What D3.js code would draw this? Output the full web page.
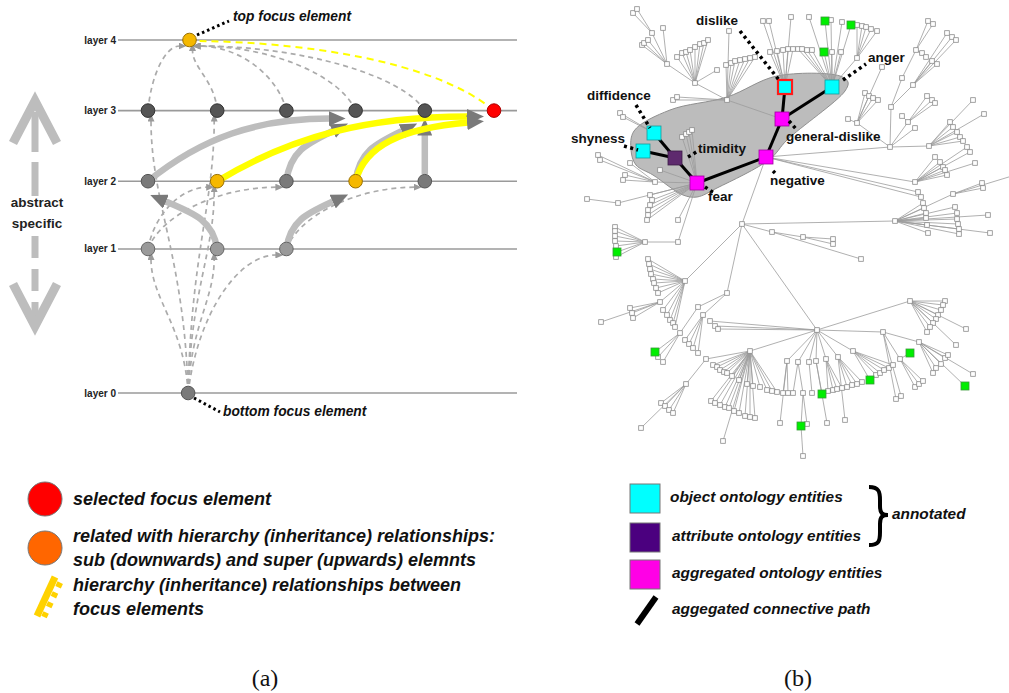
<!DOCTYPE html>
<html><head><meta charset="utf-8">
<script src="https://cdn.jsdelivr.net/npm/d3@7"></script>
<style>
body{margin:0;background:#fff;}
svg{display:block;}
</style></head><body>
<svg id="fig" width="1009" height="693"></svg>
<script>
// ================= Panel (a): layered hierarchy of focus elements =================
const layerNames = ["layer 0", "layer 1", "layer 2", "layer 3", "layer 4"];
const layerLevels = [0, 2.04, 3, 4, 5];          // layer 0 sits two steps below layer 1
// id, layer, slot, role
const elements = [
  ["b0", 0, 0.58, "base"],
  ["l1a", 1, 0, "l1"], ["l1b", 1, 1, "l1"], ["l1c", 1, 2, "l1"],
  ["l2a", 2, 0, "l2"], ["l2b", 2, 1, "focus"], ["l2c", 2, 2, "l2"], ["l2d", 2, 3, "focus"], ["l2e", 2, 4, "l2"],
  ["l3a", 3, 0, "l3"], ["l3b", 3, 1, "l3"], ["l3c", 3, 2, "l3"], ["l3d", 3, 3, "l3"], ["l3e", 3, 4, "l3"], ["sel", 3, 5, "selected"],
  ["t4", 4, 0.6, "focus"]
];
// solid hierarchy links: source, target, kind, shape
const strongLinks = [
  ["l2a", "l3d", "grey", "sweep"],
  ["l2c", "l3d", "grey", "hook"],
  ["l2d", "l3e", "grey", "hook"],
  ["l2e", "l3e", "grey", "straight"],
  ["l1b", "l2a", "grey", "hook"],
  ["l1c", "l2d", "grey", "hook"],
  ["l2b", "sel", "yellow", "sweep"],
  ["l2d", "sel", "yellow", "hook"]
];
// dashed sub/super links: source, target, shape
const dashedLinks = [
  ["b0", "l1a", "bow"], ["b0", "l1b", "bow"], ["b0", "l1c", "turn"], ["b0", "l2b", "bow"],
  ["b0", "l3a", "bow"], ["b0", "l3b", "bow"],
  ["l1a", "l2b", "turn"], ["l1a", "l2c", "turn"], ["l1c", "l2e", "turn"],
  ["l3a", "t4", "turn"], ["l3b", "t4", "bow"], ["l3c", "t4", "turn"], ["l3d", "t4", "turn"], ["l3e", "t4", "turn"]
];
const focusLink = ["sel", "t4"];

const legendA = [
  ["circle", "#ff0000", ["selected focus element"]],
  ["circle", "#ff6600", ["related with hierarchy (inheritance) relationships:", "sub (downwards) and super (upwards) elemnts"]],
  ["dash", "#ffd200", ["hierarchy (inheritance) relationships between", "focus elements"]]
];

// ================= Panel (b): ontology tree with aggregated path =================
// name, kind, x, y (layout units)
const entities = [
  ["dislike", "object", 785, 87],
  ["anger", "object", 832, 87],
  ["general-dislike", "aggregated", 782, 119],
  ["negative", "aggregated", 766, 157],
  ["fear", "aggregated", 697, 183],
  ["timidity", "attribute", 675, 158],
  ["diffidence", "object", 654, 133],
  ["shyness", "object", 643, 151]
];
const pathLinks = [
  ["dislike", "general-dislike"], ["anger", "general-dislike"], ["general-dislike", "negative"],
  ["negative", "fear"], ["fear", "timidity"], ["timidity", "diffidence"], ["timidity", "shyness"]
];
// label placement: name, text x, baseline, leader from, leader to
const entityLabels = [
  ["dislike", 696, 25, [740, 31], [779, 80]],
  ["anger", 868, 62, [843, 80], [866, 64]],
  ["diffidence", 587, 100, [636, 105], [650, 128]],
  ["shyness", 571, 143, [624, 146], [638, 150]],
  ["timidity", 698, 153, [688, 157], [698, 151]],
  ["general-dislike", 786, 141, [789, 121], [797, 130]],
  ["negative", 770, 185, [773, 171], [775, 173]],
  ["fear", 708, 201, [705, 187], [714, 193]]
];
// inner tree nodes: id, parent, x, y, kind
const treeHubs = [
  ["R", null, 817, 330], ["N1", "R", 742, 224], ["A", "general-dislike", 727, 100], ["B", "A", 695, 83],
  ["C", "B", 667, 64], ["C2", "C", 652, 33], ["AH", "anger", 857, 58],
  ["D", "negative", 890, 147], ["D2", "D", 891, 107], ["D3", "D2", 902, 78], ["D1", "D3", 916, 50],
  ["D4", "D2", 913, 85], ["D5", "D", 857, 123], ["D6", "D", 908, 122], ["D7", "D", 929, 146],
  ["E", "negative", 915, 182], ["G", "N1", 895, 221], ["G2", "G", 953, 194],
  ["N2", "N1", 772, 232], ["N3", "N2", 803, 237],
  ["F1", "fear", 618, 203], ["SC", "fear", 655, 182], ["H1", "fear", 678, 242], ["H1b", "H1", 645, 242],
  ["H2", "N1", 685, 281], ["H3", "H2", 660, 302], ["H4", "N1", 727, 293], ["H4a", "H4", 698, 307],
  ["H4b", "H4a", 680, 333], ["H4c", "H4", 703, 315], ["H5", "R", 710, 321],
  ["H6", "R", 750, 351], ["H6a", "H6", 706, 359], ["H6b", "H6a", 686, 384],
  ["B1", "R", 787, 361], ["B2", "R", 798, 362], ["B2a", "B2", 803, 393], ["Gb", "B2a", 801, 426, "green"],
  ["B3", "R", 809, 362], ["B4", "R", 816, 361], ["B5", "R", 826, 359], ["B6", "R", 838, 357],
  ["B7", "R", 853, 351], ["K", "R", 883, 332], ["K2", "K", 900, 359], ["K3", "K", 919, 342], ["M", "R", 910, 301]
];
const coreTreeLinks = [["negative", "N1"]];
// plain leaves grouped by parent
const treeLeaves = {
  "dislike": [[770, 52], [777, 51], [783, 50], [788, 49], [793, 49], [763, 21], [769, 21], [791, 17]],
  "anger": [[798, 49], [802, 49], [807, 50], [812, 50], [809, 17], [831, 20], [842, 22], [832, 52], [841, 52]],
  "AH": [[857, 25], [862, 26], [866, 27], [871, 29], [877, 31]],
  "A": [[726, 65], [731, 63], [735, 61], [740, 60], [745, 59], [750, 58], [755, 57], [729, 31], [673, 100], [677, 97]],
  "B": [[677, 57], [682, 53], [686, 52], [690, 50], [695, 47], [700, 44], [704, 43], [708, 40], [717, 70]],
  "C": [[642, 45], [644, 43], [648, 40], [663, 28]],
  "C2": [[633, 13], [637, 9]],
  "diffidence": [[620, 113], [623, 117]],
  "fear": [[682, 137], [686, 134], [689, 132], [692, 130], [660, 170], [650, 195], [652, 200], [650, 205], [648, 210], [648, 215], [647, 220], [678, 220]],
  "F1": [[587, 199]],
  "SC": [[598, 155], [600, 160], [630, 163], [625, 175], [623, 180]],
  "D": [[915, 128]],
  "D1": [[928, 21], [933, 24], [922, 53], [926, 57]],
  "D4": [[932, 61], [937, 64], [947, 33], [952, 37], [956, 40]],
  "D5": [[865, 93], [869, 96], [873, 98], [878, 100], [882, 67], [848, 119]],
  "D6": [[927, 96], [932, 100], [935, 103], [902, 116]],
  "D7": [[950, 122], [953, 127], [957, 132], [960, 137], [963, 141], [973, 100], [984, 114]],
  "E": [[935, 157], [940, 162], [943, 167], [945, 170], [947, 175], [967, 147], [970, 152], [975, 163]],
  "negative": [[918, 192], [921, 197]],
  "G": [[923, 203], [924, 208], [926, 213], [926, 218], [927, 225], [928, 233], [955, 207], [957, 213], [957, 219], [958, 224], [959, 229], [959, 234], [988, 215], [990, 233]],
  "G2": [[982, 183], [983, 188], [1012, 176]],
  "N2": [[861, 259]],
  "N3": [[833, 239], [833, 244]],
  "H1b": [[615, 227], [615, 231], [615, 236], [615, 241], [616, 246], [616, 257]],
  "H2": [[648, 259], [649, 264], [650, 269], [651, 274], [653, 279], [654, 283], [656, 288], [658, 293], [663, 310], [667, 315], [670, 320], [673, 323], [675, 327]],
  "H3": [[630, 308], [632, 313], [633, 318], [601, 322]],
  "H4b": [[658, 357], [663, 362]],
  "H4c": [[685, 340], [689, 344], [693, 348], [698, 353]],
  "R": [[715, 326], [718, 329]],
  "H6": [[713, 365], [717, 367], [720, 370], [724, 372], [727, 373], [711, 401], [715, 403], [720, 405], [725, 407], [729, 408], [734, 411], [739, 413], [745, 416], [750, 417], [755, 418], [732, 376], [739, 380], [747, 384], [753, 386], [760, 387], [767, 390], [772, 391], [777, 392], [723, 441]],
  "H6b": [[661, 403], [665, 406], [669, 410], [673, 413], [641, 428]],
  "B1": [[780, 423], [783, 393], [788, 393]],
  "B2": [[793, 393]],
  "B2a": [[807, 424]],
  "Gb": [[803, 456]],
  "B3": [[812, 393]],
  "B4": [[827, 423]],
  "B5": [[828, 391], [833, 390], [837, 389], [842, 388]],
  "B6": [[847, 387], [852, 385], [857, 384], [862, 382], [845, 420]],
  "B7": [[876, 375], [880, 373], [884, 370], [889, 368], [893, 365]],
  "K": [[896, 399], [901, 396]],
  "K2": [[915, 387], [919, 384], [923, 381]],
  "K3": [[933, 373], [936, 368], [941, 364], [945, 358], [948, 355], [973, 374]],
  "M": [[945, 301], [943, 305], [941, 310], [938, 315], [936, 319], [933, 323], [930, 327], [927, 332], [966, 329], [956, 345]]
};
// annotated (green) leaves grouped by parent
const greenLeaves = {
  "anger": [[825, 21], [824, 52], [851, 25]],
  "H1b": [[617, 252]],
  "H4b": [[655, 352]],
  "B4": [[822, 394]],
  "B7": [[870, 380]],
  "K2": [[910, 353]],
  "K3": [[965, 386]]
};
// outline of the aggregated region
const hullOutline = [[634, 131], [670, 110], [727, 97], [777, 76], [840, 76], [848, 82], [845, 91], [787, 140], [770, 159], [717, 188], [697, 197], [683, 195], [653, 175], [636, 165], [631, 150]];

const legendB = [
  ["square", "#00ffff", "object ontology entities"],
  ["square", "#4b007f", "attribute ontology entities"],
  ["square", "#ff00e6", "aggregated ontology entities"],
  ["path", "#000", "aggegated connective path"]
];

// ---------------------------------------------------------------------------
const svg = d3.select("#fig");
const SANS = '"Liberation Sans", Arial, sans-serif';
const defs = svg.append("defs");
defs.append("marker").attr("id", "bigHead").attr("viewBox", "0 0 17 15")
  .attr("refX", 1).attr("refY", 7.5).attr("markerWidth", 17).attr("markerHeight", 15)
  .attr("markerUnits", "userSpaceOnUse").attr("orient", "auto")
  .append("path").attr("d", "M0,0 L17,7.5 L0,15 Z").attr("fill", "#7a7a7a");
defs.append("marker").attr("id", "smallHead").attr("viewBox", "0 0 8 7")
  .attr("refX", 1).attr("refY", 3.5).attr("markerWidth", 8).attr("markerHeight", 7)
  .attr("markerUnits", "userSpaceOnUse").attr("orient", "auto")
  .append("path").attr("d", "M0,0 L8,3.5 L0,7 Z").attr("fill", "#9a9a9a");

// ---------- panel (a) ----------
const slotX = d3.scaleLinear().domain([0, 5]).range([148, 494]);
const levelY = d3.scaleLinear().domain([0, 5]).range([393, 40]);
const pos = {};
elements.forEach(([id, layer, slot, role]) => { pos[id] = { x: slotX(slot), y: levelY(layerLevels[layer]), role }; });

const gA = svg.append("g");
layerNames.forEach((name, i) => {
  const y = levelY(layerLevels[i]);
  gA.append("line").attr("x1", 118).attr("x2", 517).attr("y1", y).attr("y2", y)
    .attr("stroke", "#9a9a9a").attr("stroke-width", 1.6);
  gA.append("text").attr("x", 116).attr("y", y + 3.5).attr("text-anchor", "end")
    .attr("font-family", SANS).attr("font-weight", "bold").attr("font-size", 10).attr("fill", "#222").text(name);
});

function cubic(s, c1, c2, e) {
  const p = d3.path(); p.moveTo(s.x, s.y); p.bezierCurveTo(c1[0], c1[1], c2[0], c2[1], e.x, e.y); return p.toString();
}
function dashedGeom(s, t, shape) {
  let e, c1, c2;
  if (shape === "bow") {
    e = { x: t.x + (s.x < t.x ? -3 : 3), y: t.y + 10 };
    const dx = e.x - s.x, dy = e.y - s.y;
    c1 = [s.x + 0.1 * dx, s.y + 0.5 * dy]; c2 = [e.x, e.y - 0.3 * dy];
  } else {
    e = { x: t.x + (s.x < t.x ? -10 : 10), y: t.y + 6 };
    const dx = e.x - s.x, dy = e.y - s.y;
    c1 = [s.x + 0.1 * dx, s.y + 0.55 * dy]; c2 = [e.x - 0.45 * dx, e.y];
  }
  return cubic(s, c1, c2, e);
}
// dashed links
gA.append("g").selectAll("path").data(dashedLinks).join("path")
  .attr("d", d => dashedGeom(pos[d[0]], pos[d[1]], d[2]))
  .attr("fill", "none").attr("stroke", "#ababab").attr("stroke-width", 1.7)
  .attr("stroke-dasharray", "5,4").attr("marker-end", "url(#smallHead)");
// dashed link between the two focus elements
{
  const s = pos[focusLink[0]], t = pos[focusLink[1]];
  const e = { x: t.x + 8, y: t.y + 1 };
  const dx = e.x - s.x;
  gA.append("path").attr("d", cubic(s, [s.x - 0.2 * (s.x - e.x), s.y - 50], [e.x - 0.35 * dx, e.y + 1], e))
    .attr("fill", "none").attr("stroke", "#ffff00").attr("stroke-width", 2).attr("stroke-dasharray", "7,5");
}
function strongGeom(s, t, shape) {
  const sel = t.role === "selected";
  let e, c1, c2;
  if (shape === "sweep") {
    e = { x: t.x - 26, y: t.y + (sel ? 6 : 8) };
    const dx = e.x - s.x, dy = e.y - s.y;
    c1 = [s.x + 0.3 * dx, s.y + 0.7 * dy]; c2 = [s.x + 0.6 * dx, e.y];
  } else if (shape === "hook") {
    const right = t.x > s.x;
    e = { x: t.x + (right ? (sel ? -26 : -22) : 17), y: t.y + (sel ? 12 : 20) };
    const dx = e.x - s.x, dy = e.y - s.y;
    c1 = [s.x + 0.08 * dx, s.y + 0.6 * dy];
    c2 = sel ? [s.x + 0.4 * dx, s.y + 0.9 * dy] : [s.x + 0.45 * dx, s.y + 0.75 * dy];
  } else {
    e = { x: t.x, y: t.y + 24 };
    return `M${s.x},${s.y - 7}L${e.x},${e.y}`;
  }
  return cubic(s, c1, c2, e);
}
gA.append("g").selectAll("path").data(strongLinks).join("path")
  .attr("d", d => strongGeom(pos[d[0]], pos[d[1]], d[3]))
  .attr("fill", "none").attr("stroke", d => d[2] === "yellow" ? "#ffff00" : "#bdbdbd")
  .attr("stroke-width", 6.5).attr("marker-end", "url(#bigHead)");

// nodes
const nodeFill = { base: "#7a7a7a", l1: "#9a9a9a", l2: "#7a7a7a", l3: "#555", focus: "#f5b800", selected: "#ff0000" };
const nodeStroke = { base: "#555", l1: "#666", l2: "#555", l3: "#333", focus: "#9a7000", selected: "#a00" };
gA.append("g").selectAll("circle").data(elements).join("circle")
  .attr("cx", d => pos[d[0]].x).attr("cy", d => pos[d[0]].y).attr("r", 6.8)
  .attr("fill", d => nodeFill[d[3]]).attr("stroke", d => nodeStroke[d[3]]).attr("stroke-width", 1);

// focus annotations
const dotted = (x1, y1, x2, y2) => gA.append("line").attr("x1", x1).attr("y1", y1).attr("x2", x2).attr("y2", y2)
  .attr("stroke", "#000").attr("stroke-width", 3).attr("stroke-dasharray", "2.5,3");
dotted(197, 35, 229, 21);
dotted(194, 398, 220, 412);
gA.append("text").attr("x", 233).attr("y", 21).attr("font-family", SANS).attr("font-weight", "bold")
  .attr("font-style", "italic").attr("font-size", 13.8).attr("fill", "#111").text("top focus element");
gA.append("text").attr("x", 223).attr("y", 416).attr("font-family", SANS).attr("font-weight", "bold")
  .attr("font-style", "italic").attr("font-size", 13.8).attr("fill", "#111").text("bottom focus element");

// abstract / specific direction arrows
const grey = "#bdbdbd";
gA.append("polyline").attr("points", "13,143 35,101 57,143").attr("fill", "none").attr("stroke", grey).attr("stroke-width", 9);
gA.append("line").attr("x1", 35).attr("x2", 35).attr("y1", 112).attr("y2", 196).attr("stroke", grey).attr("stroke-width", 7).attr("stroke-dasharray", "40,10");
gA.append("line").attr("x1", 35).attr("x2", 35).attr("y1", 236).attr("y2", 320).attr("stroke", grey).attr("stroke-width", 7).attr("stroke-dasharray", "22,11");
gA.append("polyline").attr("points", "13,284 35,326 57,284").attr("fill", "none").attr("stroke", grey).attr("stroke-width", 9);
gA.append("text").attr("x", 37).attr("y", 207).attr("text-anchor", "middle").attr("font-family", SANS)
  .attr("font-weight", "bold").attr("font-size", 13.5).attr("fill", "#222").text("abstract");
gA.append("text").attr("x", 37).attr("y", 228).attr("text-anchor", "middle").attr("font-family", SANS)
  .attr("font-weight", "bold").attr("font-size", 13.5).attr("fill", "#222").text("specific");

// legend (a)
const legA = svg.append("g");
const legAY = [499, 548, 597];
legendA.forEach(([mark, color, lines], i) => {
  const cy = legAY[i];
  if (mark === "circle") {
    legA.append("circle").attr("cx", 45).attr("cy", cy).attr("r", 17).attr("fill", color).attr("stroke", "#777").attr("stroke-width", 1);
  } else {
    legA.append("line").attr("x1", 37).attr("y1", cy + 19).attr("x2", 55).attr("y2", cy - 20).attr("stroke", color).attr("stroke-width", 7);
    legA.append("line").attr("x1", 44).attr("y1", cy + 20).attr("x2", 61).attr("y2", cy - 16).attr("stroke", color).attr("stroke-width", 6).attr("stroke-dasharray", "5,6");
  }
  const t = legA.append("text").attr("font-family", SANS).attr("font-weight", "bold").attr("font-style", "italic")
    .attr("font-size", 18).attr("fill", "#111");
  const y0 = lines.length === 1 ? cy + 6 : cy - 6;
  lines.forEach((ln, j) => t.append("tspan").attr("x", 73).attr("y", y0 + j * 24).text(ln));
});
svg.append("text").attr("x", 265).attr("y", 686).attr("text-anchor", "middle").attr("font-family", '"Liberation Serif", "Times New Roman", serif')
  .attr("font-size", 24).attr("fill", "#111").text("(a)");

// ---------- panel (b) ----------
const bx = d3.scaleLinear().domain([560, 1010]).range([560, 1010]);
const by = d3.scaleLinear().domain([0, 470]).range([0, 470]);
const gB = svg.append("g");
const node = {};
entities.forEach(([name, kind, x, y]) => { node[name] = { x: bx(x), y: by(y), kind }; });
treeHubs.forEach(([id, parent, x, y, kind]) => { node[id] = { x: bx(x), y: by(y), kind: kind || "leaf" }; });

// shaded aggregated region
gB.append("path").attr("d", d3.line().x(d => bx(d[0])).y(d => by(d[1])).curve(d3.curveCatmullRomClosed.alpha(0.5))(hullOutline))
  .attr("fill", "#bcbcbc").attr("stroke", "#8f8f8f").attr("stroke-width", 1);

// thin tree edges
const edges = [];
treeHubs.forEach(([id, parent]) => { if (parent) edges.push([node[parent], node[id]]); });
coreTreeLinks.forEach(([a, b]) => edges.push([node[a], node[b]]));
const leafNodes = [];
Object.entries(treeLeaves).forEach(([p, arr]) => arr.forEach(([x, y]) => {
  const n = { x: bx(x), y: by(y), kind: "leaf" }; leafNodes.push(n); edges.push([node[p], n]);
}));
Object.entries(greenLeaves).forEach(([p, arr]) => arr.forEach(([x, y]) => {
  const n = { x: bx(x), y: by(y), kind: "green" }; leafNodes.push(n); edges.push([node[p], n]);
}));
gB.append("g").selectAll("line").data(edges).join("line")
  .attr("x1", d => d[0].x).attr("y1", d => d[0].y).attr("x2", d => d[1].x).attr("y2", d => d[1].y)
  .attr("stroke", "#9c9c9c").attr("stroke-width", 0.8);

// aggregated connective path
gB.append("g").selectAll("line").data(pathLinks).join("line")
  .attr("x1", d => node[d[0]].x).attr("y1", d => node[d[0]].y).attr("x2", d => node[d[1]].x).attr("y2", d => node[d[1]].y)
  .attr("stroke", "#000").attr("stroke-width", 3);

// leaves and hubs
const smallNodes = leafNodes.concat(treeHubs.map(h => node[h[0]]));
gB.append("g").selectAll("rect").data(smallNodes).join("rect")
  .attr("x", d => d.x - (d.kind === "green" ? 4 : 2.3)).attr("y", d => d.y - (d.kind === "green" ? 4 : 2.3))
  .attr("width", d => d.kind === "green" ? 8 : 4.6).attr("height", d => d.kind === "green" ? 8 : 4.6)
  .attr("fill", d => d.kind === "green" ? "#00ee00" : "#fff")
  .attr("stroke", d => d.kind === "green" ? "#3a9a3a" : "#8a8a8a").attr("stroke-width", 0.8);

// entity squares
const kindFill = { object: "#00ffff", attribute: "#5e2a6e", aggregated: "#ff00ff" };
const kindStroke = { object: "#1a9a9a", attribute: "#3a1a45", aggregated: "#a000a0" };
gB.append("g").selectAll("rect").data(entities).join("rect")
  .attr("x", d => node[d[0]].x - 7).attr("y", d => node[d[0]].y - 7).attr("width", 14).attr("height", 14)
  .attr("fill", d => kindFill[d[1]])
  .attr("stroke", d => d[0] === "dislike" ? "#ff1a1a" : kindStroke[d[1]])
  .attr("stroke-width", d => d[0] === "dislike" ? 2.2 : 0.8);

// labels with dotted leaders
entityLabels.forEach(([name, x, y, a, b]) => {
  gB.append("line").attr("x1", bx(a[0])).attr("y1", by(a[1])).attr("x2", bx(b[0])).attr("y2", by(b[1]))
    .attr("stroke", "#000").attr("stroke-width", 3.5).attr("stroke-dasharray", "3,3.5");
  gB.append("text").attr("x", bx(x)).attr("y", by(y)).attr("font-family", SANS).attr("font-weight", "bold")
    .attr("font-size", 13.5).attr("fill", "#111").text(name);
});

// legend (b)
const legB = svg.append("g");
const legBY = [484, 523, 560, 596];
legendB.forEach(([mark, color, label], i) => {
  const y = legBY[i];
  if (mark === "square") {
    legB.append("rect").attr("x", 630).attr("y", y).attr("width", 30).attr("height", 29)
      .attr("fill", color).attr("stroke", "#777").attr("stroke-width", 1);
  } else {
    legB.append("line").attr("x1", 637).attr("y1", y + 28).attr("x2", 656).attr("y2", y + 1)
      .attr("stroke", color).attr("stroke-width", 6);
  }
  legB.append("text").attr("x", i === 0 ? 670 : 672).attr("y", y + 18).attr("font-family", SANS)
    .attr("font-weight", "bold").attr("font-style", "italic").attr("font-size", 15.4).attr("fill", "#111").text(label);
});
legB.append("path").attr("d", "M869,487 C879,487 880,492 880,500 L880,506 C880,513 882,515 888,515 C882,515 880,517 880,524 L880,532 C880,541 879,545 869,545")
  .attr("fill", "none").attr("stroke", "#000").attr("stroke-width", 4);
legB.append("text").attr("x", 892).attr("y", 519).attr("font-family", SANS).attr("font-weight", "bold")
  .attr("font-style", "italic").attr("font-size", 15.4).attr("fill", "#111").text("annotated");
svg.append("text").attr("x", 798).attr("y", 686).attr("text-anchor", "middle").attr("font-family", '"Liberation Serif", "Times New Roman", serif')
  .attr("font-size", 24).attr("fill", "#111").text("(b)");
</script>
</body></html>
